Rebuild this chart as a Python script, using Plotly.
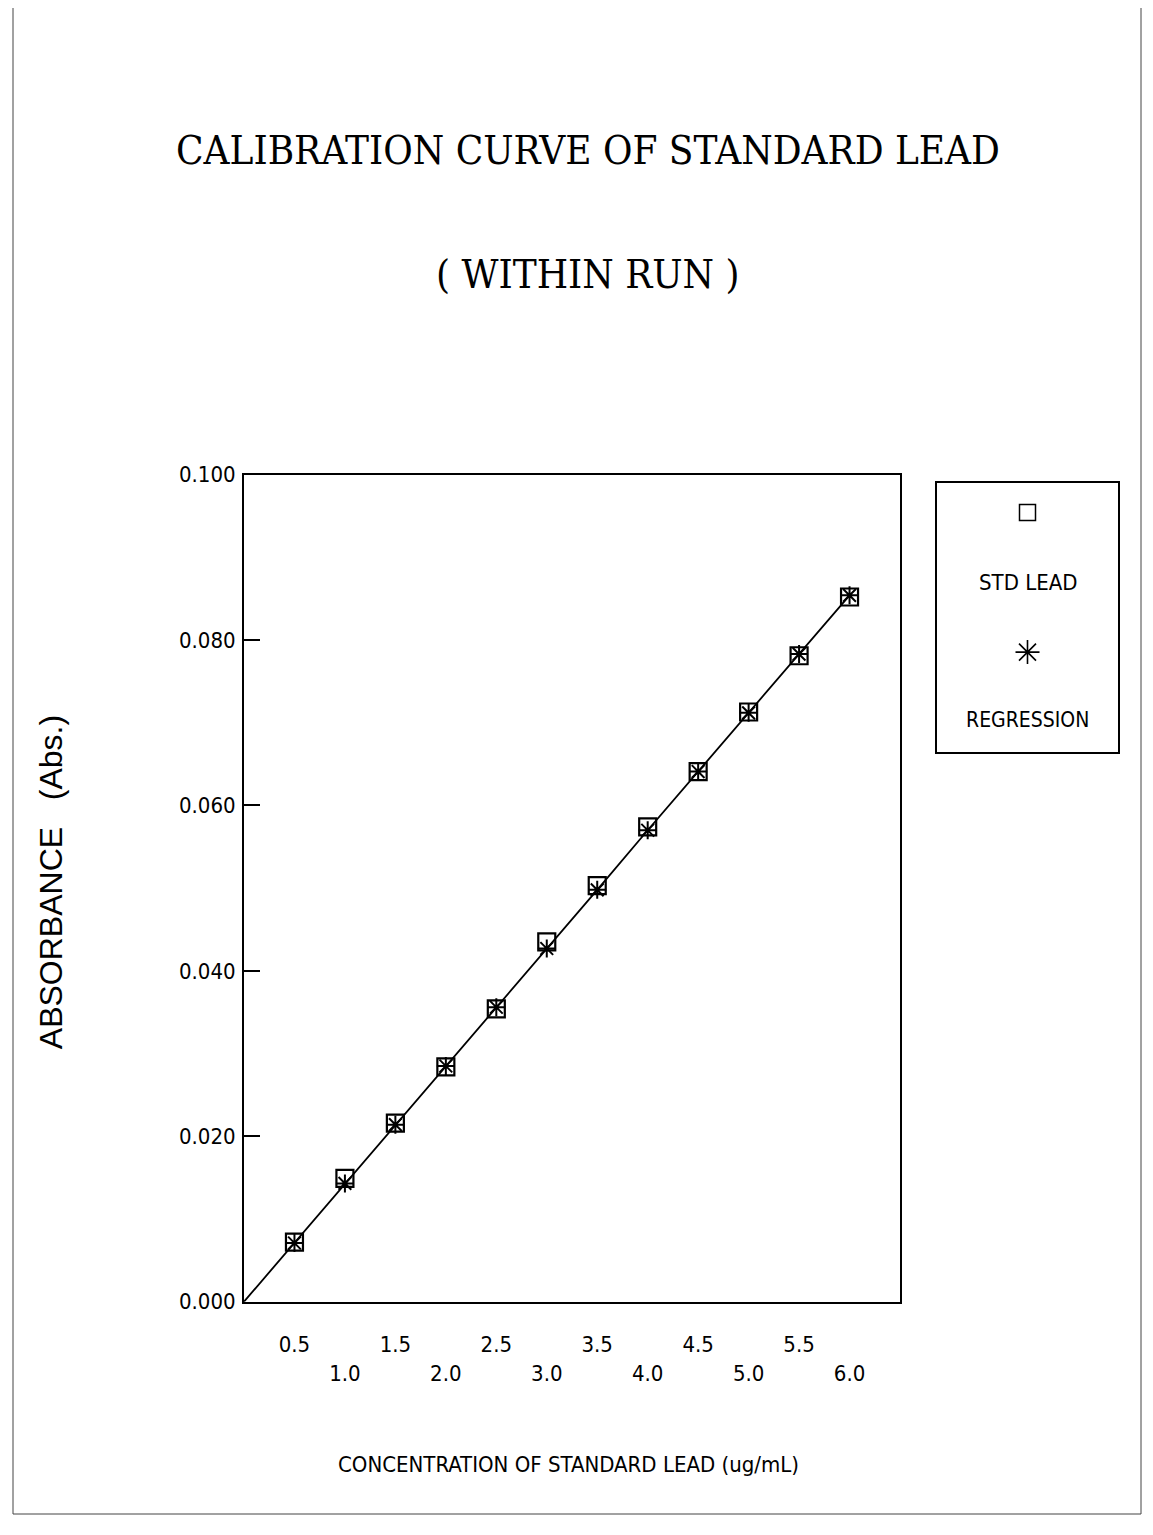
import plotly.graph_objects as go

# ---- data ----
concentration = [0.5, 1.0, 1.5, 2.0, 2.5, 3.0, 3.5, 4.0, 4.5, 5.0, 5.5, 6.0]
std_lead = [0.0072, 0.0149, 0.0216, 0.0284, 0.0354, 0.0435, 0.0503, 0.0574, 0.0641, 0.0713, 0.0781, 0.0852]
regression = [0.0071, 0.0143, 0.0214, 0.0285, 0.0356, 0.0427, 0.0498, 0.0570, 0.0641, 0.0712, 0.0783, 0.0854]
line_x = [0.0] + concentration
line_y = [0.0] + regression
y_ticks = [0.0, 0.02, 0.04, 0.06, 0.08, 0.10]
y_tick_labels = ["0.000", "0.020", "0.040", "0.060", "0.080", "0.100"]
x_tick_labels = ["0.5", "<br>1.0", "1.5", "<br>2.0", "2.5", "<br>3.0",
                 "3.5", "<br>4.0", "4.5", "<br>5.0", "5.5", "<br>6.0"]

# page has an 8px body margin; figure sized to fit inside the viewport
OFF = 8
W, H = 1153 - 2 * OFF, 1535 - 2 * OFF
VS = 0.987  # observed vertical scale of the photographed page


def px(x):
    return (x - OFF) / W


def py(y):
    fy = (y - 2 * OFF * VS) / VS
    return max(0.0, (H - fy) / H)


NARROW = "Liberation Sans Narrow, DejaVu Sans Condensed, Arial Narrow, sans-serif"
SERIF = "DejaVu Serif Condensed, Liberation Serif, serif"

fig = go.Figure()

fig.add_trace(go.Scatter(x=line_x, y=line_y, mode="lines",
                         line=dict(color="black", width=1.8),
                         showlegend=False, hoverinfo="skip"))
fig.add_trace(go.Scatter(x=concentration, y=std_lead, mode="markers", name="STD LEAD",
                         marker=dict(symbol="square-open", size=17, color="black",
                                     line=dict(width=2.2, color="black")),
                         showlegend=False))
fig.add_trace(go.Scatter(x=concentration, y=regression, mode="markers", name="REGRESSION",
                         marker=dict(symbol="asterisk-open", size=15, color="black",
                                     line=dict(width=2, color="black")),
                         showlegend=False))

# legend box drawn on a helper axis pair
fig.add_trace(go.Scatter(x=[0.5], y=[0.889], xaxis="x2", yaxis="y2", mode="markers",
                         marker=dict(symbol="square-open", size=16, color="black",
                                     line=dict(width=1.5, color="black")),
                         showlegend=False, hoverinfo="skip"))
fig.add_trace(go.Scatter(x=[0.5], y=[0.37], xaxis="x2", yaxis="y2", mode="markers",
                         marker=dict(symbol="asterisk-open", size=20, color="black",
                                     line=dict(width=1.6, color="black")),
                         showlegend=False, hoverinfo="skip"))

fig.update_layout(
    width=W, height=H,
    margin=dict(l=0, r=0, t=0, b=0),
    paper_bgcolor="white", plot_bgcolor="white",
    xaxis=dict(domain=[px(244), px(900)], range=[0, 6.5],
               tickvals=concentration, ticktext=x_tick_labels,
               ticks="", showgrid=False, zeroline=False,
               showline=True, linecolor="black", linewidth=2, mirror=True,
               tickfont=dict(family=NARROW, size=22, color="black"),
               ticklabelstandoff=22),
    yaxis=dict(domain=[py(1302), py(472)], range=[0, 0.1],
               tickvals=y_ticks, ticktext=y_tick_labels,
               ticks="inside", ticklen=16, tickwidth=1.5, tickcolor="black",
               showgrid=False, zeroline=False,
               showline=True, linecolor="black", linewidth=2, mirror=True,
               tickfont=dict(family=NARROW, size=22, color="black"),
               ticklabelstandoff=2),
    xaxis2=dict(domain=[px(937), px(1118)], range=[0, 1], anchor="y2",
                showticklabels=False, ticks="", showgrid=False, zeroline=False,
                showline=True, linecolor="black", linewidth=1.5, mirror=True),
    yaxis2=dict(domain=[py(750), py(480)], range=[0, 1], anchor="x2",
                showticklabels=False, ticks="", showgrid=False, zeroline=False,
                showline=True, linecolor="black", linewidth=1.5, mirror=True),
    annotations=[
        dict(text="CALIBRATION CURVE OF STANDARD LEAD", x=px(588), y=py(146),
             xref="paper", yref="paper", xanchor="center", yanchor="middle", showarrow=False,
             font=dict(family=SERIF, size=40, color="black")),
        dict(text="( WITHIN RUN )", x=px(588), y=py(271),
             xref="paper", yref="paper", xanchor="center", yanchor="middle", showarrow=False,
             font=dict(family=SERIF, size=40, color="black")),
        dict(text="CONCENTRATION OF STANDARD LEAD (ug/mL)", x=px(568), y=py(1465),
             xref="paper", yref="paper", xanchor="center", yanchor="middle", showarrow=False,
             font=dict(family=NARROW, size=22, color="black")),
        dict(text="ABSORBANCE   (Abs.)", x=px(51), y=py(881),
             xref="paper", yref="paper", xanchor="center", yanchor="middle",
             showarrow=False, textangle=-90,
             font=dict(family="Liberation Sans, Arial, sans-serif", size=32, color="black")),
        dict(text="STD LEAD", x=0.5, y=0.63, xref="x2", yref="y2", showarrow=False,
             font=dict(family=NARROW, size=22, color="black")),
        dict(text="REGRESSION", x=0.5, y=0.118, xref="x2", yref="y2", showarrow=False,
             font=dict(family=NARROW, size=21, color="black")),
    ],
    shapes=[
        dict(type="rect", xref="paper", yref="paper",
             x0=px(13), x1=px(1141), y0=py(1527), y1=1.02,
             line=dict(color="#444", width=1), fillcolor="rgba(0,0,0,0)", layer="below"),
    ],
)

fig.write_html("out.html")
